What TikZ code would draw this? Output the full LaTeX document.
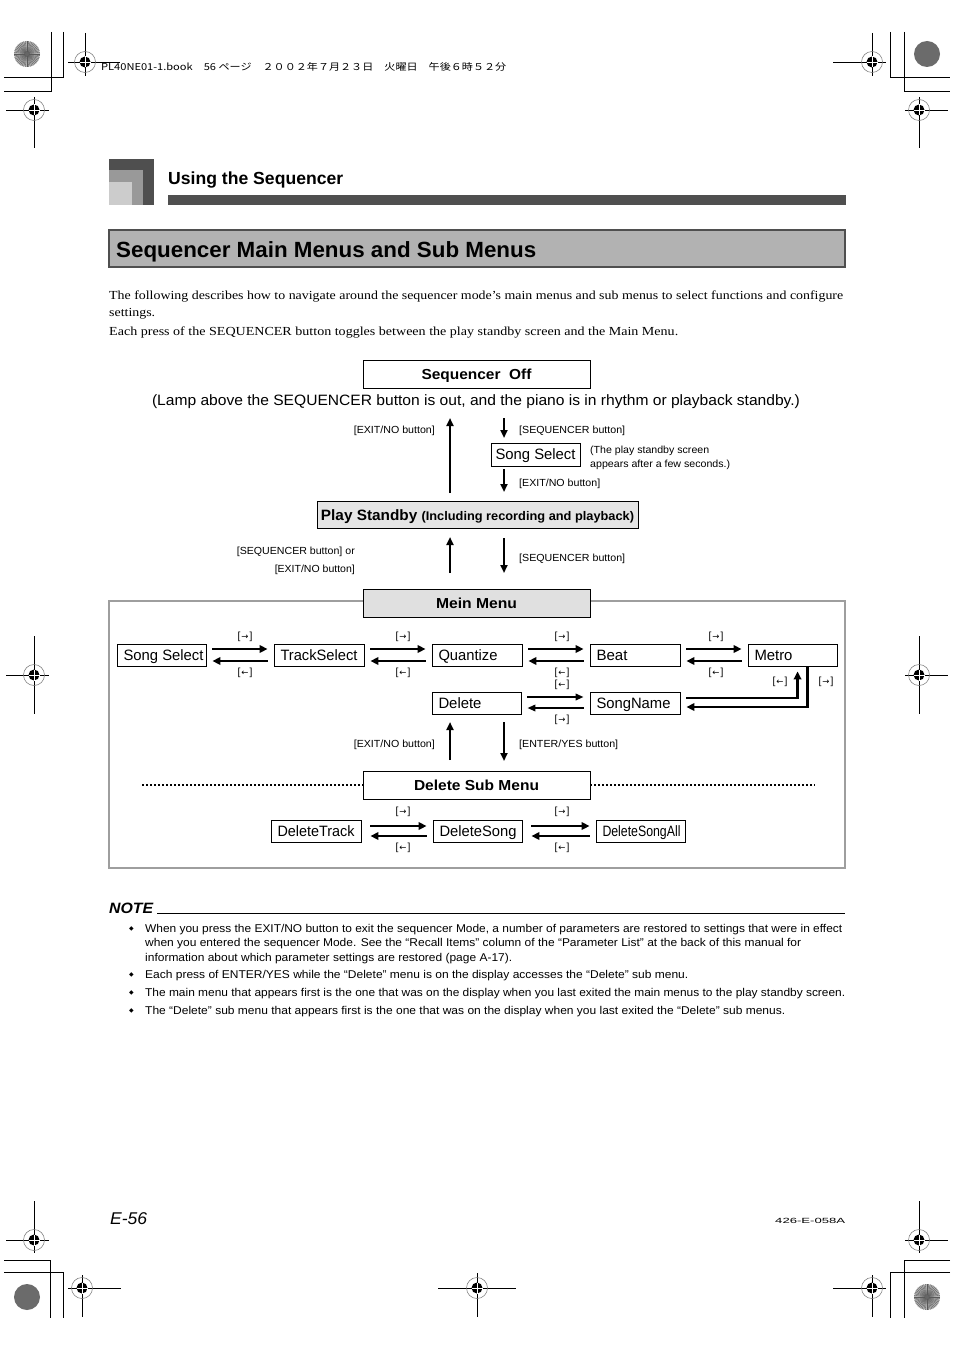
\documentclass[tikz,border=0pt]{standalone}
\usepackage{fontspec}
\usepackage{graphicx}
\setmainfont{Liberation Serif}
\setsansfont{Liberation Sans}
\newfontfamily\jpf{Noto Sans CJK JP}
\newfontfamily\dvf{DejaVu Sans}
\usetikzlibrary{arrows.meta}
\newcommand{\fw}[2]{\resizebox{#1}{\height}{#2}}
\newcommand{\ra}{[\kern1pt{\dvf\fontsize{8.5}{9}\selectfont →}\kern1pt]}
\newcommand{\la}{[\kern1pt{\dvf\fontsize{8.5}{9}\selectfont ←}\kern1pt]}
\newcommand{\regm}[6]{%
  \draw[line width=0.8pt] (#3,#2) -- (#4,#2);
  \draw[line width=0.8pt] (#1,#5) -- (#1,#6);
  \draw[black!55, line width=0.5pt] (#1,#2) circle (10.5pt);
  \fill (#1,#2) circle (5.5pt);
  \draw[white, line width=0.6pt] (#1-5.5,#2) -- (#1+5.5,#2) (#1,#2-5.5) -- (#1,#2+5.5);
}
\newcommand{\starsolid}[2]{\fill[black!58] (#1,#2) circle (13pt);}
\newcommand{\starrad}[2]{%
  \fill[black!30] (#1,#2) circle (13pt);
  \foreach \a in {0,7.5,...,352.5} {\draw[black!65, line width=0.35pt] (#1,#2) -- ++(\a:13pt);}
  \fill[black!60] (#1,#2) circle (2pt);
}
\begin{document}
\begin{tikzpicture}[x=1pt,y=-1pt,
  lbl/.style={inner sep=0pt, font=\sffamily\fontsize{10.3}{12}\selectfont},
  mbox/.style={draw, line width=0.9pt, inner xsep=6.5pt, inner ysep=0pt, minimum height=22pt, text height=10.8pt, text depth=0pt, font=\sffamily\fontsize{15}{18}\selectfont},
  wbox/.style={draw, line width=0.9pt, inner sep=0pt, minimum width=227pt, minimum height=28pt, text height=10.4pt, text depth=0pt, font=\sffamily\bfseries\fontsize{14.5}{17}\selectfont},
  harr/.style={line width=2.8pt, -{Triangle[length=8pt,width=7.5pt]}},
  tharr/.style={line width=1.9pt, -{Triangle[length=8pt,width=6.5pt]}},
  varr/.style={line width=2.4pt, -{Triangle[length=8pt,width=7pt]}},
  body/.style={anchor=base west, inner sep=0pt, font=\rmfamily\fontsize{12.3}{14}\selectfont},
  note/.style={anchor=base west, inner sep=0pt, font=\sffamily\fontsize{11.3}{13}\selectfont},
  bul/.style={inner sep=0pt, font=\dvf\fontsize{6}{7}\selectfont},
  crop/.style={line width=0.8pt}
]
\useasboundingbox (0,0) rectangle (954,1351);
\fill[white] (0,0) rectangle (954,1351);

% ---------- crop marks ----------
\draw[crop] (51,32) -- (51,91) -- (4,91);
\draw[crop] (63,32) -- (63,77) -- (4,77);
\draw[crop] (890,32) -- (890,77) -- (950,77);
\draw[crop] (904,32) -- (904,91) -- (950,91);
\draw[crop] (4,1260) -- (50,1260) -- (50,1318);
\draw[crop] (4,1272) -- (63,1272) -- (63,1318);
\draw[crop] (950,1260) -- (904,1260) -- (904,1318);
\draw[crop] (950,1272) -- (890,1272) -- (890,1318);
\starrad{27}{54}
\starsolid{927}{54}
\starsolid{27}{1297}
\starrad{927}{1297}
\regm{85}{62}{68}{120}{33}{76}
\regm{34}{110}{6}{49}{97}{148}
\regm{872}{62}{833}{886}{33}{76}
\regm{919}{110}{905}{948}{97}{148}
\regm{34}{675}{6}{49}{636}{714}
\regm{919}{675}{905}{948}{636}{714}
\regm{34}{1240}{6}{49}{1201}{1253}
\regm{82}{1288}{68}{121}{1275}{1317}
\regm{477}{1288}{438}{516}{1273}{1317}
\regm{919}{1240}{905}{948}{1201}{1253}
\regm{872}{1288}{833}{886}{1275}{1317}

\node[anchor=base west, inner sep=0pt, font=\jpf\fontsize{9.5}{11}\selectfont] (hdr) at (101,71)
  {\fw{405pt}{PL40NE01-1.book\quad 56 ページ\quad ２００２年７月２３日\quad 火曜日\quad 午後６時５２分}};

% ---------- section heading ----------
\fill[black!69] (109,159) rectangle (154,205);
\fill[black!40] (109,170) rectangle (143,205);
\fill[black!20] (109,182) rectangle (132,205);
\fill[black!69] (168,195) rectangle (846,205);
\node[anchor=base west, inner sep=0pt, font=\sffamily\bfseries\fontsize{17.5}{20}\selectfont] (sec) at (168,185) {\fw{175pt}{Using the Sequencer}};

\draw[fill=black!30, draw=black!69, line width=1.5pt] (109,230) rectangle (845,267);
\node[anchor=base west, inner sep=0pt, font=\sffamily\bfseries\fontsize{22}{26}\selectfont] (ttl) at (116,257) {\fw{420pt}{Sequencer Main Menus and Sub Menus}};

\node[body] (b1) at (109,299) {\fw{734pt}{The following describes how to navigate around the sequencer mode’s main menus and sub menus to select functions and configure}};
\node[body] (b2) at (109,316) {\fw{46pt}{settings.}};
\node[body] (b3) at (109,335) {\fw{569pt}{Each press of the SEQUENCER button toggles between the play standby screen and the Main Menu.}};

% ---------- upper diagram ----------
\node[wbox] (soff) at (476.5,374) {\fw{110pt}{Sequencer\ \ Off}};
\node[inner sep=0pt, anchor=base, font=\sffamily\fontsize{15}{18}\selectfont] (lamp) at (476,405) {\fw{648pt}{(Lamp above the SEQUENCER button is out, and the piano is in rhythm or playback standby.)}};

\node[draw, line width=0.9pt, inner sep=0pt, minimum width=89pt, minimum height=23pt, text height=10.8pt, text depth=0pt, font=\sffamily\fontsize{15}{18}\selectfont] (ssel0) at (535.5,454.5) {\fw{80pt}{Song Select}};
\node[draw, line width=0.9pt, fill=black!10, inner sep=0pt, minimum width=321pt, minimum height=27pt, text height=11pt, text depth=0pt] (ps) at (477.5,514.5)
  {\fw{313pt}{\sffamily\bfseries\fontsize{15}{18}\selectfont Play Standby {\fontsize{12.5}{15}\selectfont (Including recording and playback)}}};

\coordinate (u1a) at (450,493); \coordinate (u1b) at (450,418);
\coordinate (d1a) at (504,418); \coordinate (d1b) at (504,438);
\coordinate (d2a) at (504,469); \coordinate (d2b) at (504,492);
\draw[varr] (u1a) -- (u1b);
\draw[varr] (d1a) -- (d1b);
\draw[varr] (d2a) -- (d2b);
\node[lbl, anchor=base east] (l1) at (435,433) {\fw{81pt}{[EXIT/NO button]}};
\node[lbl, anchor=base west] (l2) at (519,433) {\fw{106pt}{[SEQUENCER button]}};
\node[lbl, anchor=base west] (l3) at (590,453) {\fw{119pt}{(The play standby screen}};
\node[lbl, anchor=base west] (l4) at (590,467) {\fw{140pt}{appears after a few seconds.)}};
\node[lbl, anchor=base west] (l5) at (519,486) {\fw{81pt}{[EXIT/NO button]}};

\coordinate (u2a) at (450,573); \coordinate (u2b) at (450,537);
\coordinate (d3a) at (504,538); \coordinate (d3b) at (504,573);
\draw[varr] (u2a) -- (u2b);
\draw[varr] (d3a) -- (d3b);
\node[lbl, anchor=base east] (l6) at (355,554) {\fw{118pt}{[SEQUENCER button] or}};
\node[lbl, anchor=base east] (l7) at (355,572) {\fw{80pt}{[EXIT/NO button]}};
\node[lbl, anchor=base west] (l8) at (519,561) {\fw{106pt}{[SEQUENCER button]}};

% ---------- main menu frame ----------
\draw[black!38, line width=2.6pt] (109,601) rectangle (845,868);
\node[wbox, fill=black!12] (mm) at (476.5,603) {\fw{81pt}{Mein Menu}};

\node[mbox] (ss) at (161.5,655) {\makebox[76pt][l]{\fw{80pt}{Song Select}}};
\node[mbox] (ts) at (319,655) {\makebox[77pt][l]{\fw{77pt}{TrackSelect}}};
\node[mbox] (qz) at (477,655) {\makebox[77pt][l]{\fw{59pt}{Quantize}}};
\node[mbox] (bt) at (635,655) {\makebox[77pt][l]{\fw{31pt}{Beat}}};
\node[mbox] (me) at (792.5,655) {\makebox[76pt][l]{\fw{38pt}{Metro}}};
\node[mbox] (del) at (476.5,703) {\makebox[76pt][l]{\fw{43pt}{Delete}}};
\node[mbox] (sn) at (635,703) {\makebox[77pt][l]{\fw{74pt}{SongName}}};

\foreach \a/\b in {ss/ts,ts/qz,qz/bt,bt/me} {
  \draw[harr] ([xshift=6pt,yshift=6pt]\a.east) -- ([xshift=-6pt,yshift=6pt]\b.west);
  \draw[harr] ([xshift=-6pt,yshift=-6pt]\b.west) -- ([xshift=6pt,yshift=-6pt]\a.east);
}
\draw[tharr] ([xshift=6pt,yshift=6pt]del.east) -- ([xshift=-6pt,yshift=6pt]sn.west);
\draw[tharr] ([xshift=-6pt,yshift=-5pt]sn.west) -- ([xshift=6pt,yshift=-5pt]del.east);
\draw[harr] ([xshift=6pt,yshift=5pt]sn.east) -| ([xshift=50pt,yshift=-5pt]me.south west);
\draw[harr] ([xshift=60pt,yshift=-1pt]me.south west) |- ([xshift=6pt,yshift=-4pt]sn.east);

\foreach \x in {245,403,562,716} {
  \node[lbl] at (\x,637) {\ra};
  \node[lbl] at (\x,673) {\la};
}
\node[lbl] at (562,685) {\la};
\node[lbl] at (562,720) {\ra};
\node[lbl] at (780,682) {\la};
\node[lbl] at (826,682) {\ra};

\coordinate (u3a) at (450,760); \coordinate (u3b) at (450,722);
\coordinate (d4a) at (504,722); \coordinate (d4b) at (504,761);
\draw[varr] (u3a) -- (u3b);
\draw[varr] (d4a) -- (d4b);
\node[lbl, anchor=base east] (l9) at (435,747) {\fw{81pt}{[EXIT/NO button]}};
\node[lbl, anchor=base west] (l10) at (519,747) {\fw{99pt}{[ENTER/YES button]}};

% ---------- delete sub menu ----------
\node[wbox, fill=white] (dsm) at (476.5,785) {\fw{125pt}{Delete Sub Menu}};
\coordinate (dl) at (142,785); \coordinate (dr) at (815,785);
\draw[line width=1.4pt, dash pattern=on 1.6pt off 2.4pt] (dl) -- (dsm.west);
\draw[line width=1.4pt, dash pattern=on 1.6pt off 2.4pt] (dsm.east) -- (dr);

\node[mbox] (dt) at (316,831) {\makebox[77pt][l]{\fw{77pt}{DeleteTrack}}};
\node[mbox] (ds) at (477.5,831) {\makebox[76pt][l]{\fw{77pt}{DeleteSong}}};
\node[mbox] (dsa) at (640.5,831) {\makebox[76pt][l]{\fw{78pt}{DeleteSongAll}}};
\foreach \a/\b in {dt/ds,ds/dsa} {
  \draw[harr] ([xshift=9pt,yshift=5pt]\a.east) -- ([xshift=-6pt,yshift=5pt]\b.west);
  \draw[harr] ([xshift=-6pt,yshift=-5pt]\b.west) -- ([xshift=9pt,yshift=-5pt]\a.east);
}
\foreach \x in {403,562} {
  \node[lbl] at (\x,812) {\ra};
  \node[lbl] at (\x,848) {\la};
}

% ---------- note ----------
\node[anchor=base west, inner sep=0pt, font=\sffamily\bfseries\itshape\fontsize{15}{18}\selectfont] (nt) at (109,913) {\fw{44pt}{NOTE}};
\coordinate (ne) at (845,913);
\draw[line width=0.7pt] ([xshift=4pt]nt.base east) -- (ne);
\node[note] (n1) at (145,932) {\fw{697pt}{When you press the EXIT/NO button to exit the sequencer Mode, a number of parameters are restored to settings that were in effect}};
\node[note] (n2) at (145,946) {\fw{656pt}{when you entered the sequencer Mode. See the “Recall Items” column of the “Parameter List” at the back of this manual for}};
\node[note] (n3) at (145,961) {\fw{367pt}{information about which parameter settings are restored (page A-17).}};
\node[note] (n4) at (145,978) {\fw{543pt}{Each press of ENTER/YES while the “Delete” menu is on the display accesses the “Delete” sub menu.}};
\node[note] (n5) at (145,996) {\fw{700pt}{The main menu that appears first is the one that was on the display when you last exited the main menus to the play standby screen.}};
\node[note] (n6) at (145,1014) {\fw{640pt}{The “Delete” sub menu that appears first is the one that was on the display when you last exited the “Delete” sub menus.}};
\foreach \y in {928.5,974.5,992.5,1010.5} {\node[bul] at (131.5,\y) {◆};}

% ---------- footer ----------
\node[anchor=base west, inner sep=0pt, font=\sffamily\itshape\fontsize{17}{20}\selectfont] (pg) at (110,1224) {\fw{37pt}{E-56}};
\node[anchor=base west, inner sep=0pt, font=\sffamily\fontsize{7.5}{9}\selectfont] (code) at (775,1223) {\fw{70pt}{426-E-058A}};
\end{tikzpicture}
\end{document}
